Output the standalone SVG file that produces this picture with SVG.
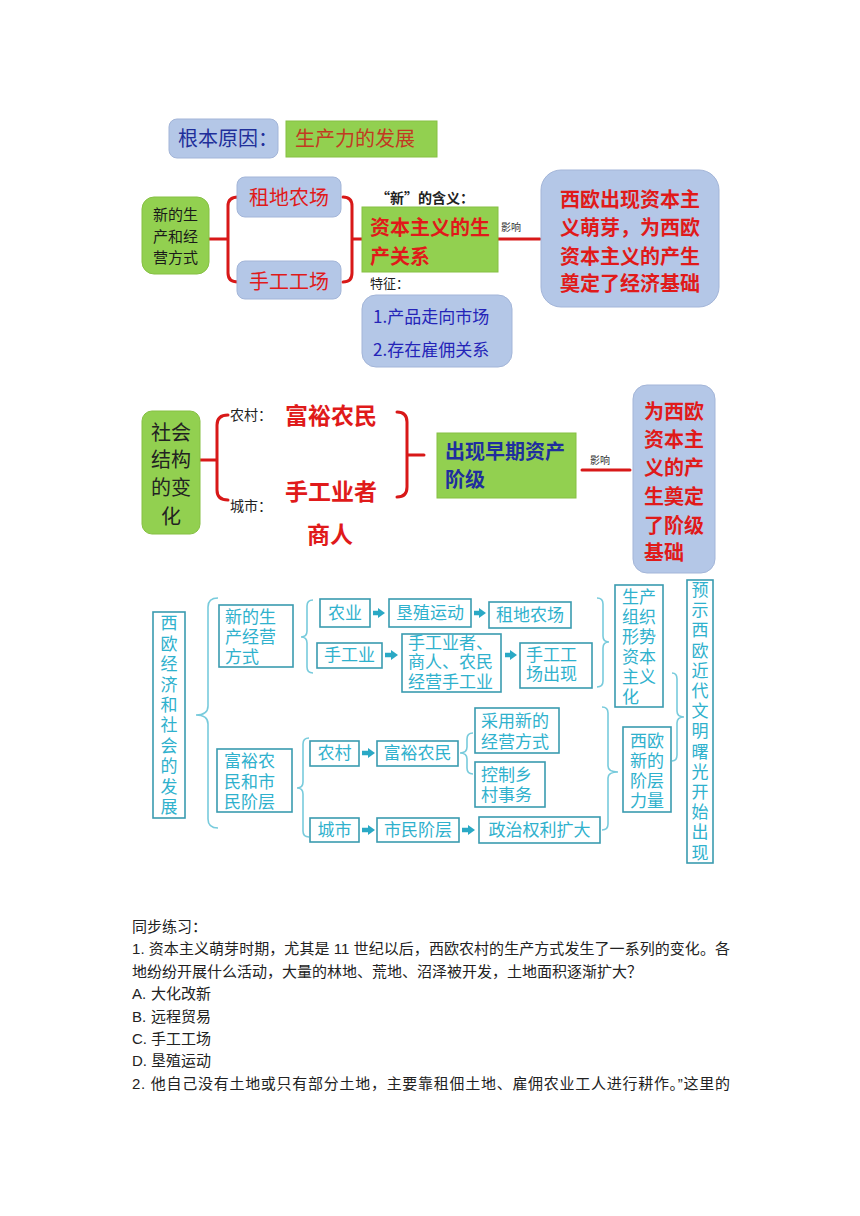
<svg xmlns="http://www.w3.org/2000/svg" width="860" height="1216" viewBox="0 0 860 1216">
<defs>
<style>
.bb{fill:#b4c7e7;stroke:#a3b5d8;stroke-width:1}
.gb{fill:#92d050;stroke:#86c043;stroke-width:1}
.cb{fill:#fff;stroke:#3a9bb0;stroke-width:1.6}
.f{font-family:"Noto Sans CJK SC","Liberation Sans",sans-serif}
.ct{fill:#2fb1cd;font-size:17px;font-family:"Noto Sans CJK SC",sans-serif}
.red{fill:#e01a1a}
.rb{stroke:#d81818;stroke-width:3;fill:none;stroke-linecap:round}
.cbr{stroke:#78cbdc;stroke-width:1.6;fill:none}
.arw{stroke:#2aa9c5;stroke-width:4.5}
.body{font-family:"Liberation Sans","Noto Sans CJK SC",sans-serif;font-size:15px;fill:#222}
</style>
<marker id="ah" markerUnits="userSpaceOnUse" markerWidth="8" markerHeight="10" refX="1" refY="5" orient="auto"><path d="M0,0 L7,5 L0,10 z" fill="#2aa9c5"/></marker>
</defs>
<rect width="860" height="1216" fill="#fff"/>

<!-- connectors -->
<g id="connectors">
<path class="rb" d="M209 239 L228 239 M238 197 Q228 197 228 206 L228 273 Q228 282 238 282"/>
<path class="rb" d="M343 197 Q352 197 352 206 L352 273 Q352 282 343 282 M352 239 L362 239"/>
<path class="rb" d="M498 239 L540 239"/>
<path class="rb" d="M200 460 L217 460 M228 415 Q217 415 217 425 L217 490 Q217 500 228 500"/>
<path class="rb" d="M397 412 Q407 412 407 422 L407 487 Q407 497 397 497 M407 455 L424 455"/>
<path class="rb" d="M582 470 L630 470"/>
<path class="cbr" d="M218 598 Q208 598 208 607 L208 706 Q208 715 196 715 Q208 715 208 724 L208 819 Q208 828 218 828"/>
<path class="cbr" d="M313 600 Q307 600 307 606 L307 631 Q307 637 301 637 Q307 637 307 643 L307 667 Q307 673 313 673"/>
<path class="cbr" d="M309 738 Q303 738 303 744 L303 782 Q303 788 297 788 Q303 788 303 794 L303 831 Q303 837 309 837"/>
<path class="cbr" d="M473 733 Q467 733 467 739 L467 747 Q467 753 460 753 Q467 753 467 759 L467 768 Q467 774 473 774"/>
<path class="cbr" d="M597 598 Q603 598 603 604 L603 636 Q603 642 609 642 Q603 642 603 648 L603 681 Q603 687 597 687"/>
<path class="cbr" d="M602 707 Q608 707 608 713 L608 766 Q608 772 618 772 Q608 772 608 778 L608 824 Q608 830 602 830"/>
<path class="cbr" d="M672 673 Q677 673 677 679 L677 711 Q677 717 684 717 Q677 717 677 723 L677 755 Q677 761 672 761"/>
<line class="arw" x1="373" y1="613" x2="379" y2="613" marker-end="url(#ah)"/>
<line class="arw" x1="474" y1="613" x2="480" y2="613" marker-end="url(#ah)"/>
<line class="arw" x1="385" y1="655" x2="392" y2="655" marker-end="url(#ah)"/>
<line class="arw" x1="505" y1="655" x2="511" y2="655" marker-end="url(#ah)"/>
<line class="arw" x1="362" y1="753" x2="369" y2="753" marker-end="url(#ah)"/>
<line class="arw" x1="362" y1="830" x2="369" y2="830" marker-end="url(#ah)"/>
<line class="arw" x1="462" y1="830" x2="469" y2="830" marker-end="url(#ah)"/>
</g>

<!-- top section -->
<g id="root-cause-label">
<rect class="bb" x="169" y="119" width="109" height="39" rx="8"/>
<text class="f" x="178" y="146" font-size="20" fill="#1f2f9a">根本原因：</text>
</g>
<g id="root-cause">
<rect class="gb" x="286" y="121" width="151" height="36"/>
<text class="f" x="295" y="146" font-size="20" fill="#c23a22">生产力的发展</text>
</g>
<g id="new-mode">
<rect class="gb" x="142" y="197" width="67" height="77" rx="12"/>
<text class="f" font-size="15" fill="#1a1a1a"><tspan x="153" y="220">新的生</tspan><tspan x="153" y="242">产和经</tspan><tspan x="153" y="263">营方式</tspan></text>
</g>
<g id="farm">
<rect class="bb" x="237" y="177" width="104" height="40" rx="8"/>
<text class="f red" x="289" y="205" font-size="20" text-anchor="middle">租地农场</text>
</g>
<g id="workshop">
<rect class="bb" x="237" y="261" width="104" height="38" rx="8"/>
<text class="f red" x="289" y="289" font-size="20" text-anchor="middle">手工工场</text>
</g>
<g id="capitalist-relation">
<text class="f" x="376" y="203" font-size="14" font-weight="bold" fill="#222">“新”的含义：</text>
<rect class="gb" x="362" y="207" width="136" height="65"/>
<text class="f red" font-size="20" font-weight="bold"><tspan x="370" y="235">资本主义的生</tspan><tspan x="370" y="264">产关系</tspan></text>
<text class="f" x="501" y="231" font-size="10" fill="#333">影响</text>
</g>
<g id="features">
<text class="f" x="370" y="288" font-size="13" fill="#222">特征：</text>
<rect class="bb" x="362" y="295" width="150" height="72" rx="14"/>
<text class="f" font-size="17" fill="#2424b8"><tspan x="373" y="323">1.产品走向市场</tspan><tspan x="373" y="356">2.存在雇佣关系</tspan></text>
</g>
<g id="econ-basis">
<rect class="bb" x="541" y="170" width="178" height="137" rx="20"/>
<text class="f red" font-size="20" font-weight="bold"><tspan x="560" y="207">西欧出现资本主</tspan><tspan x="560" y="235">义萌芽，为西欧</tspan><tspan x="560" y="264">资本主义的产生</tspan><tspan x="560" y="291">奠定了经济基础</tspan></text>
</g>

<!-- middle section -->
<g id="social-change">
<rect class="gb" x="142" y="411" width="58" height="123" rx="10"/>
<text class="f" font-size="20" fill="#222" text-anchor="middle"><tspan x="171" y="440">社会</tspan><tspan x="171" y="467">结构</tspan><tspan x="171" y="495">的变</tspan><tspan x="171" y="524">化</tspan></text>
</g>
<g id="rural">
<text class="f" x="230" y="420" font-size="14" fill="#222">农村：</text>
<text class="f red" x="331" y="424" font-size="23" font-weight="bold" text-anchor="middle">富裕农民</text>
</g>
<g id="urban">
<text class="f" x="230" y="511" font-size="14" fill="#222">城市：</text>
<text class="f red" x="331" y="500" font-size="23" font-weight="bold" text-anchor="middle">手工业者</text>
<text class="f red" x="330" y="543" font-size="23" font-weight="bold" text-anchor="middle">商人</text>
</g>
<g id="bourgeoisie">
<rect class="gb" x="437" y="433" width="139" height="65"/>
<text class="f" font-size="20" fill="#1f2e9e" font-weight="bold"><tspan x="445" y="459">出现早期资产</tspan><tspan x="445" y="487">阶级</tspan></text>
<text class="f" x="590" y="464" font-size="10" fill="#333">影响</text>
</g>
<g id="class-basis">
<rect class="bb" x="633" y="385" width="82" height="188" rx="14"/>
<text class="f red" font-size="20" font-weight="bold"><tspan x="644" y="419">为西欧</tspan><tspan x="644" y="447">资本主</tspan><tspan x="644" y="475">义的产</tspan><tspan x="644" y="504">生奠定</tspan><tspan x="644" y="533">了阶级</tspan><tspan x="644" y="560">基础</tspan></text>
</g>

<!-- bottom diagram -->
<g id="west-europe">
<rect class="cb" x="153" y="612" width="32" height="206"/>
<text class="ct" text-anchor="middle" font-size="18"><tspan x="169" y="629">西</tspan><tspan x="169" y="650">欧</tspan><tspan x="169" y="670">经</tspan><tspan x="169" y="691">济</tspan><tspan x="169" y="711">和</tspan><tspan x="169" y="731">社</tspan><tspan x="169" y="752">会</tspan><tspan x="169" y="772">的</tspan><tspan x="169" y="793">发</tspan><tspan x="169" y="813">展</tspan></text>
</g>
<g id="b-new-mode">
<rect class="cb" x="219" y="605" width="74" height="62"/>
<text class="ct"><tspan x="225" y="623">新的生</tspan><tspan x="225" y="643">产经营</tspan><tspan x="225" y="663">方式</tspan></text>
</g>
<g id="b-rich">
<rect class="cb" x="217" y="749" width="75" height="63"/>
<text class="ct"><tspan x="224" y="767">富裕农</tspan><tspan x="224" y="788">民和市</tspan><tspan x="224" y="808">民阶层</tspan></text>
</g>
<g id="b-agri">
<rect class="cb" x="320" y="599" width="50" height="28"/>
<text class="ct" x="345" y="619" text-anchor="middle">农业</text>
</g>
<g id="b-reclaim">
<rect class="cb" x="389" y="599" width="82" height="28"/>
<text class="ct" x="430" y="619" text-anchor="middle">垦殖运动</text>
</g>
<g id="b-farm">
<rect class="cb" x="489" y="602" width="82" height="26"/>
<text class="ct" x="530" y="621" text-anchor="middle">租地农场</text>
</g>
<g id="b-handicraft">
<rect class="cb" x="317" y="643" width="65" height="25"/>
<text class="ct" x="349.5" y="661" text-anchor="middle">手工业</text>
</g>
<g id="b-craftsmen">
<rect class="cb" x="402" y="634" width="99" height="58"/>
<text class="ct"><tspan x="408" y="649">手工业者、</tspan><tspan x="408" y="668">商人、农民</tspan><tspan x="408" y="688">经营手工业</tspan></text>
</g>
<g id="b-workshop">
<rect class="cb" x="520" y="643" width="72" height="45"/>
<text class="ct"><tspan x="526" y="661">手工工</tspan><tspan x="526" y="680">场出现</tspan></text>
</g>
<g id="b-capitalize">
<rect class="cb" x="615" y="585" width="48" height="122"/>
<text class="ct"><tspan x="622" y="603">生产</tspan><tspan x="622" y="623">组织</tspan><tspan x="622" y="643">形势</tspan><tspan x="622" y="663">资本</tspan><tspan x="622" y="683">主义</tspan><tspan x="622" y="703">化</tspan></text>
</g>
<g id="b-dawn">
<rect class="cb" x="687" y="580" width="26" height="283"/>
<text class="ct" text-anchor="middle" font-size="18"><tspan x="700" y="596">预</tspan><tspan x="700" y="616">示</tspan><tspan x="700" y="636">西</tspan><tspan x="700" y="657">欧</tspan><tspan x="700" y="677">近</tspan><tspan x="700" y="697">代</tspan><tspan x="700" y="717">文</tspan><tspan x="700" y="737">明</tspan><tspan x="700" y="758">曙</tspan><tspan x="700" y="778">光</tspan><tspan x="700" y="798">开</tspan><tspan x="700" y="818">始</tspan><tspan x="700" y="838">出</tspan><tspan x="700" y="859">现</tspan></text>
</g>
<g id="b-village">
<rect class="cb" x="310" y="741" width="49" height="25"/>
<text class="ct" x="334.5" y="759" text-anchor="middle">农村</text>
</g>
<g id="b-richfarmer">
<rect class="cb" x="377" y="741" width="81" height="25"/>
<text class="ct" x="417.5" y="759" text-anchor="middle">富裕农民</text>
</g>
<g id="b-adopt">
<rect class="cb" x="475" y="708" width="84" height="45"/>
<text class="ct"><tspan x="481" y="727">采用新的</tspan><tspan x="481" y="748">经营方式</tspan></text>
</g>
<g id="b-control">
<rect class="cb" x="475" y="762" width="70" height="45"/>
<text class="ct"><tspan x="481" y="781">控制乡</tspan><tspan x="481" y="801">村事务</tspan></text>
</g>
<g id="b-city">
<rect class="cb" x="310" y="818" width="49" height="24"/>
<text class="ct" x="334.5" y="836" text-anchor="middle">城市</text>
</g>
<g id="b-citizen">
<rect class="cb" x="377" y="818" width="82" height="24"/>
<text class="ct" x="418" y="836" text-anchor="middle">市民阶层</text>
</g>
<g id="b-rights">
<rect class="cb" x="479" y="817" width="121" height="26"/>
<text class="ct" x="539.5" y="836" text-anchor="middle">政治权利扩大</text>
</g>
<g id="b-newclass">
<rect class="cb" x="623" y="727" width="48" height="85"/>
<text class="ct"><tspan x="630" y="747">西欧</tspan><tspan x="630" y="767">新的</tspan><tspan x="630" y="787">阶层</tspan><tspan x="630" y="807">力量</tspan></text>
</g>

<!-- exercise text -->
<g id="exercise">
<text class="body" x="132" y="932">同步练习：</text>
<text class="body" x="132" y="954" textLength="598" lengthAdjust="spacing">1. 资本主义萌芽时期，尤其是 11 世纪以后，西欧农村的生产方式发生了一系列的变化。各</text>
<text class="body" x="132" y="977">地纷纷开展什么活动，大量的林地、荒地、沼泽被开发，土地面积逐渐扩大？</text>
<text class="body" y="999"><tspan x="132">A.</tspan><tspan x="151">大化改新</tspan></text>
<text class="body" y="1022"><tspan x="132">B.</tspan><tspan x="151">远程贸易</tspan></text>
<text class="body" y="1044"><tspan x="132">C.</tspan><tspan x="151">手工工场</tspan></text>
<text class="body" y="1066"><tspan x="132">D.</tspan><tspan x="151">垦殖运动</tspan></text>
<text class="body" x="132" y="1089" textLength="598" lengthAdjust="spacing">2. 他自己没有土地或只有部分土地，主要靠租佃土地、雇佣农业工人进行耕作。”这里的</text>
</g>
</svg>
